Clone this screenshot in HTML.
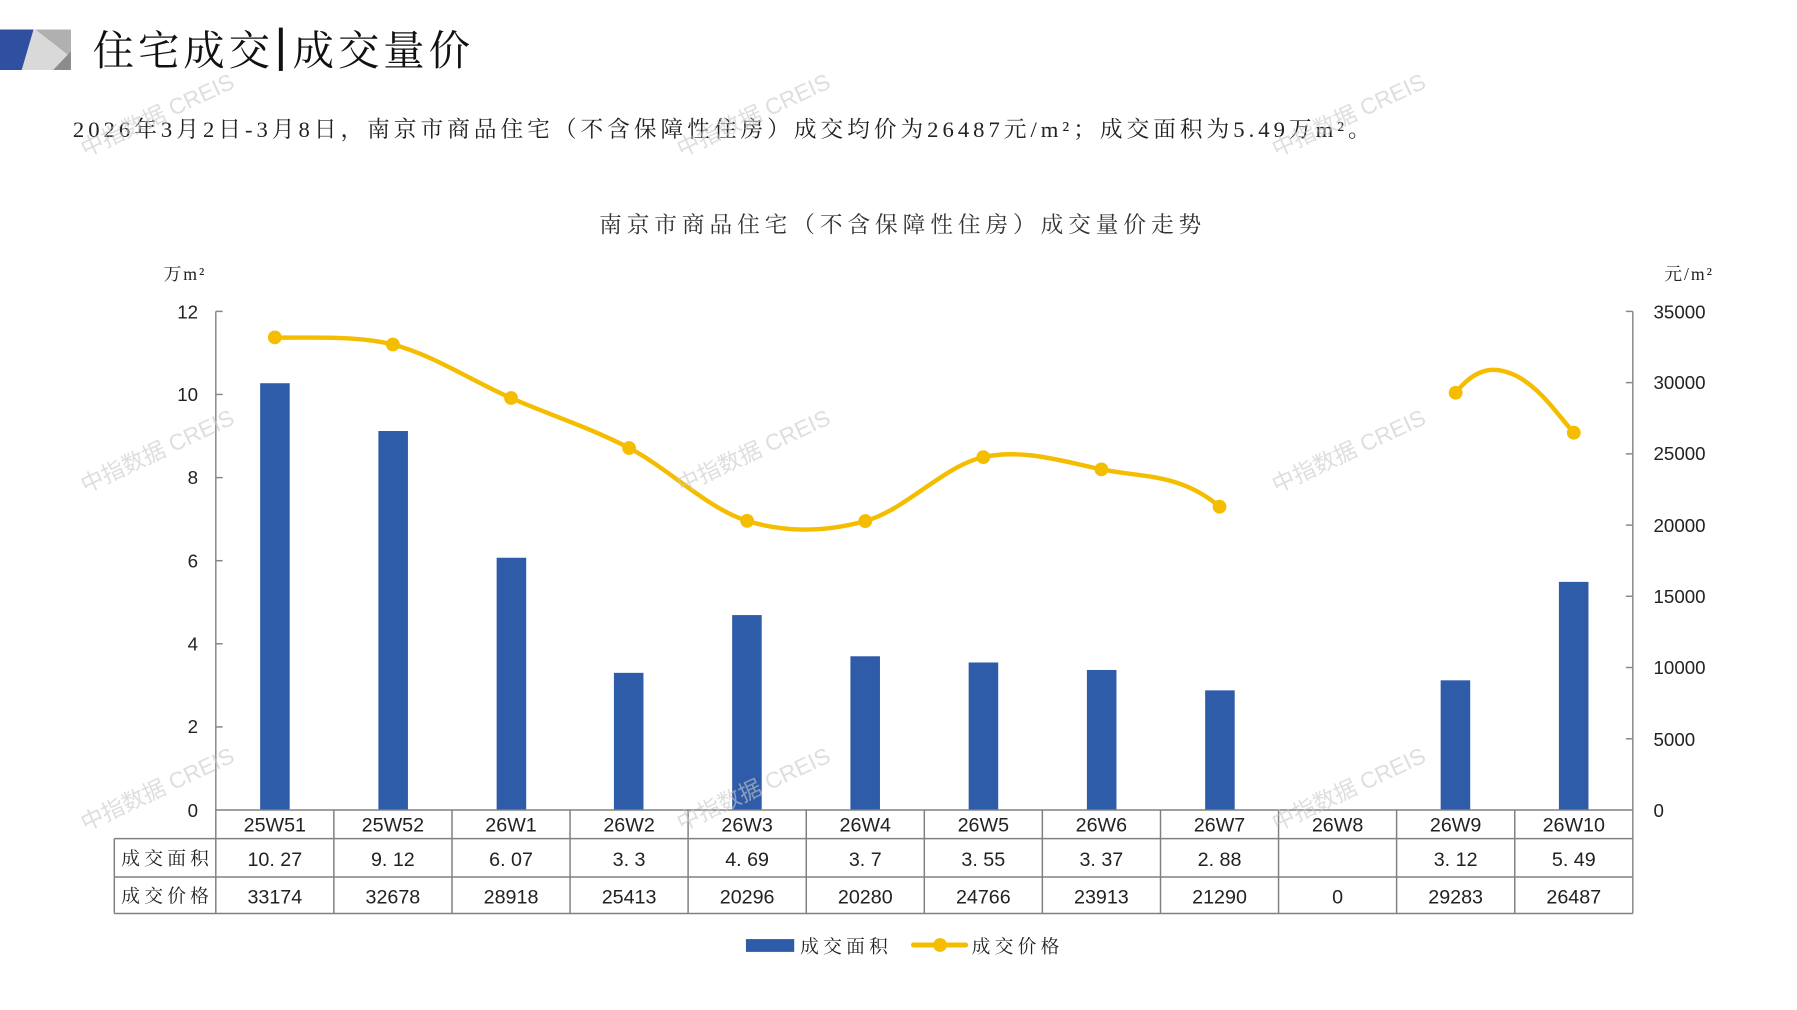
<!DOCTYPE html>
<html><head><meta charset="utf-8"><style>
html,body{margin:0;padding:0;background:#fff;width:1797px;height:1010px;overflow:hidden}
svg{display:block}
.s{font-family:"Liberation Serif","Noto Serif CJK SC",serif}
.n{font-family:"Liberation Sans","Noto Sans CJK SC",sans-serif}
</style></head><body>
<svg width="1797" height="1010" viewBox="0 0 1797 1010" xmlns="http://www.w3.org/2000/svg">
<g transform="scale(0.9854)">
<!-- logo -->
<rect x="22" y="30" width="50" height="41" fill="#d9d9d9"/>
<polygon points="36,30 72,30 72,58" fill="#b0b0b0"/>
<polygon points="54,71 72,52 72,71" fill="#8c8c8c"/>
<polygon points="0,30 34,30 22,71 0,71" fill="#2f4fa0"/>
<text x="94" y="66" class="s" font-size="42" fill="#111" letter-spacing="4">住宅成交</text>
<rect x="283" y="28" width="4" height="44" fill="#111"/>
<text x="297" y="66" class="s" font-size="42" fill="#111" letter-spacing="4">成交量价</text>
<text x="74" y="139" class="s" font-size="23" fill="#222" textLength="1317" lengthAdjust="spacing">2026年3月2日-3月8日，南京市商品住宅（不含保障性住房）成交均价为26487元/m²；成交面积为5.49万m²。</text>
<text x="608" y="236" class="s" font-size="23" fill="#333" textLength="611" lengthAdjust="spacing">南京市商品住宅（不含保障性住房）成交量价走势</text>
<text x="166" y="284" class="s" font-size="18" fill="#222" letter-spacing="2">万m²</text>
<text x="1689" y="284" class="s" font-size="18" fill="#222" letter-spacing="2">元/m²</text>
<!-- axes -->
<g stroke="#888" stroke-width="1.5" fill="none">
<line x1="219" y1="316" x2="219" y2="822"/>
<line x1="1657" y1="316" x2="1657" y2="927"/>
<line x1="219" y1="316" x2="226" y2="316"/><line x1="219" y1="400.3" x2="226" y2="400.3"/><line x1="219" y1="484.7" x2="226" y2="484.7"/><line x1="219" y1="569" x2="226" y2="569"/><line x1="219" y1="653.3" x2="226" y2="653.3"/><line x1="219" y1="737.7" x2="226" y2="737.7"/>
<line x1="1650" y1="316" x2="1657" y2="316"/><line x1="1650" y1="388.3" x2="1657" y2="388.3"/><line x1="1650" y1="460.6" x2="1657" y2="460.6"/><line x1="1650" y1="532.9" x2="1657" y2="532.9"/><line x1="1650" y1="605.1" x2="1657" y2="605.1"/><line x1="1650" y1="677.4" x2="1657" y2="677.4"/><line x1="1650" y1="749.7" x2="1657" y2="749.7"/>
</g>
<g class="n" font-size="19" fill="#222" text-anchor="end">
<text x="201" y="323">12</text><text x="201" y="407">10</text><text x="201" y="491">8</text><text x="201" y="576">6</text><text x="201" y="660">4</text><text x="201" y="744">2</text><text x="201" y="829">0</text>
</g>
<g class="n" font-size="19" fill="#222">
<text x="1678" y="323">35000</text><text x="1678" y="395">30000</text><text x="1678" y="467">25000</text><text x="1678" y="540">20000</text><text x="1678" y="612">15000</text><text x="1678" y="684">10000</text><text x="1678" y="757">5000</text><text x="1678" y="829">0</text>
</g>
<!-- bars -->
<g fill="#2f5ca8">
<rect x="264" y="388.9" width="30" height="433.1"/>
<rect x="384" y="437.4" width="30" height="384.6"/>
<rect x="504" y="566" width="30" height="256"/>
<rect x="623" y="682.8" width="30" height="139.2"/>
<rect x="743" y="624.2" width="30" height="197.8"/>
<rect x="863" y="666" width="30" height="156"/>
<rect x="983" y="672.3" width="30" height="149.7"/>
<rect x="1103" y="679.9" width="30" height="142.1"/>
<rect x="1223" y="700.6" width="30" height="121.4"/>
<rect x="1462" y="690.4" width="30" height="131.6"/>
<rect x="1582" y="590.5" width="30" height="231.5"/>
</g>
<!-- line -->
<g stroke="#f5bd00" stroke-width="4.5" fill="none" stroke-linecap="round">
<path d="M278.9,342.4 C298.9,343.6 358.7,339.4 398.7,349.6 C438.7,359.85 478.6,386.4 518.6,403.9 C558.6,421.4 598.4,433.8 638.4,454.6 C678.4,475.4 718.2,516.2 758.2,528.6 C798.2,541 838.1,539.7 878.1,528.8 C918.1,517.9 957.9,472.7 997.9,463.9 C1037.9,455.1 1077.7,467.9 1117.7,476.3 C1157.7,484.7 1197.6,480 1237.6,514.2"/>
<path d="M1477.2,398.6 C1500,370 1520,372 1540,382 C1565,396 1580,420 1597.1,439.1"/>
</g>
<g fill="#f5bd00">
<circle cx="278.9" cy="342.4" r="7"/><circle cx="398.7" cy="349.6" r="7"/><circle cx="518.6" cy="403.9" r="7"/><circle cx="638.4" cy="454.6" r="7"/><circle cx="758.2" cy="528.6" r="7"/><circle cx="878.1" cy="528.8" r="7"/><circle cx="997.9" cy="463.9" r="7"/><circle cx="1117.7" cy="476.3" r="7"/><circle cx="1237.6" cy="514.2" r="7"/><circle cx="1477.2" cy="398.6" r="7"/><circle cx="1597.1" cy="439.1" r="7"/>
</g>
<!-- table -->
<g stroke="#808080" stroke-width="1.5" fill="none">
<line x1="219" y1="822" x2="1657" y2="822"/>
<line x1="116" y1="851" x2="1657" y2="851"/>
<line x1="116" y1="890" x2="1657" y2="890"/>
<line x1="116" y1="927" x2="1657" y2="927"/>
<line x1="116" y1="851" x2="116" y2="927"/>
<line x1="219" y1="822" x2="219" y2="927"/>
<line x1="338.8" y1="822" x2="338.8" y2="927"/><line x1="458.7" y1="822" x2="458.7" y2="927"/><line x1="578.5" y1="822" x2="578.5" y2="927"/><line x1="698.3" y1="822" x2="698.3" y2="927"/><line x1="818.2" y1="822" x2="818.2" y2="927"/><line x1="938" y1="822" x2="938" y2="927"/><line x1="1057.8" y1="822" x2="1057.8" y2="927"/><line x1="1177.7" y1="822" x2="1177.7" y2="927"/><line x1="1297.5" y1="822" x2="1297.5" y2="927"/><line x1="1417.3" y1="822" x2="1417.3" y2="927"/><line x1="1537.2" y1="822" x2="1537.2" y2="927"/>
</g>
<g class="s" font-size="19" fill="#222">
<text x="123" y="878" textLength="89" lengthAdjust="spacing">成交面积</text><text x="123" y="916" textLength="89" lengthAdjust="spacing">成交价格</text>
</g>
<g class="n" font-size="20" fill="#222" text-anchor="middle">
<text x="278.9" y="844">25W51</text><text x="398.7" y="844">25W52</text><text x="518.6" y="844">26W1</text><text x="638.4" y="844">26W2</text><text x="758.2" y="844">26W3</text><text x="878.1" y="844">26W4</text><text x="997.9" y="844">26W5</text><text x="1117.7" y="844">26W6</text><text x="1237.6" y="844">26W7</text><text x="1357.4" y="844">26W8</text><text x="1477.2" y="844">26W9</text><text x="1597.1" y="844">26W10</text>
<text x="278.9" y="879">10. 27</text><text x="398.7" y="879">9. 12</text><text x="518.6" y="879">6. 07</text><text x="638.4" y="879">3. 3</text><text x="758.2" y="879">4. 69</text><text x="878.1" y="879">3. 7</text><text x="997.9" y="879">3. 55</text><text x="1117.7" y="879">3. 37</text><text x="1237.6" y="879">2. 88</text><text x="1477.2" y="879">3. 12</text><text x="1597.1" y="879">5. 49</text>
<text x="278.9" y="917">33174</text><text x="398.7" y="917">32678</text><text x="518.6" y="917">28918</text><text x="638.4" y="917">25413</text><text x="758.2" y="917">20296</text><text x="878.1" y="917">20280</text><text x="997.9" y="917">24766</text><text x="1117.7" y="917">23913</text><text x="1237.6" y="917">21290</text><text x="1357.4" y="917">0</text><text x="1477.2" y="917">29283</text><text x="1597.1" y="917">26487</text>
</g>
<!-- legend -->
<rect x="757" y="953" width="49" height="13" fill="#2f5ca8"/>
<text x="812" y="967" class="s" font-size="19" fill="#222" textLength="89" lengthAdjust="spacing">成交面积</text>
<line x1="927" y1="959" x2="980" y2="959" stroke="#f5bd00" stroke-width="5" stroke-linecap="round"/>
<circle cx="954" cy="959" r="7" fill="#f5bd00"/>
<text x="986" y="967" class="s" font-size="19" fill="#222" textLength="89" lengthAdjust="spacing">成交价格</text>
<!-- watermarks -->
<g class="n" font-size="23" fill="#c8c8c8" fill-opacity="0.6" text-anchor="middle">
<text transform="translate(163,124) rotate(-25)">中指数据 CREIS</text>
<text transform="translate(768,124) rotate(-25)">中指数据 CREIS</text>
<text transform="translate(1372,124) rotate(-25)">中指数据 CREIS</text>
<text transform="translate(163,465) rotate(-25)">中指数据 CREIS</text>
<text transform="translate(768,465) rotate(-25)">中指数据 CREIS</text>
<text transform="translate(1372,465) rotate(-25)">中指数据 CREIS</text>
<text transform="translate(163,808) rotate(-25)">中指数据 CREIS</text>
<text transform="translate(768,808) rotate(-25)">中指数据 CREIS</text>
<text transform="translate(1372,808) rotate(-25)">中指数据 CREIS</text>
</g>
</g>
</svg>
</body></html>
